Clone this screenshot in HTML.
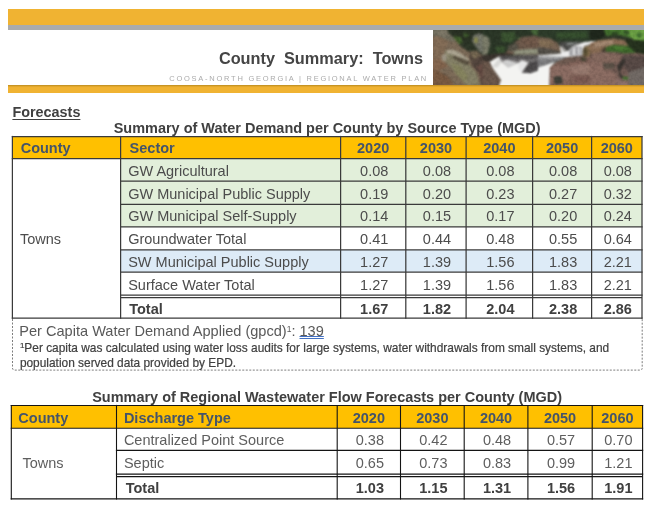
<!DOCTYPE html>
<html><head><meta charset="utf-8"><title>County Summary: Towns</title>
<style>
html,body{margin:0;padding:0;background:#fff;}
body{width:651px;height:513px;position:relative;overflow:hidden;font-family:"Liberation Sans",sans-serif;color:#404040;}
.a{position:absolute;white-space:pre;line-height:1;}
.c{position:absolute;box-sizing:border-box;display:flex;align-items:center;font-size:14.5px;white-space:pre;line-height:1;padding-top:2.2px}
.c.l{justify-content:flex-start;padding-left:7.6px}
.c.m{justify-content:center;padding-left:2px}
.c.h{font-weight:bold;color:#44546a;font-size:14.5px}
.c.b{font-weight:bold}
.c.n{color:#4c4c4c}
.c.g{color:#5e5e5e}
.c.p0{padding-left:0}
.c.pt0{padding-top:0}
.c span{display:block}
.photo{position:absolute;left:433px;top:30px;width:211px;height:55px;overflow:hidden}
</style></head><body>
<div class="a" style="left:8px;top:9px;width:636px;height:15.6px;background:#f0b332"></div>
<div class="a" style="left:8px;top:24.6px;width:636px;height:5.4px;background:#a9abad"></div>
<div class="a" style="left:8px;top:85px;width:636px;height:7.8px;background:linear-gradient(#b98a1e 0,#e0a62c 1.4px,#f0b332 2.6px)"></div>
<svg class="photo" width="211" height="55" viewBox="0 0 211 55" preserveAspectRatio="none"><defs><filter id="b" x="-20%" y="-40%" width="140%" height="180%" color-interpolation-filters="sRGB"><feGaussianBlur stdDeviation="0.8" result="g"/><feTurbulence type="fractalNoise" baseFrequency="0.3" numOctaves="2" seed="7" result="n"/><feColorMatrix in="n" type="matrix" values="0 0 0 0 0  0 0 0 0 0  0 0 0 0 0  0.32 0 0 0 -0.12" result="na"/><feColorMatrix in="g" type="matrix" values="0 0 0 0 0  0 0 0 0 0  0 0 0 0 0  -0.5 -1.2 -0.3 0 1.75" result="mk"/><feComposite in="na" in2="mk" operator="in" result="nd"/><feMerge><feMergeNode in="g"/><feMergeNode in="nd"/></feMerge></filter></defs><g filter="url(#b)"><rect x="-20" y="-20" width="252" height="95" fill="#2f3829"/><polygon points="12.7,-7.8 61.3,-7.8 61.3,12.6 43.2,13.7 31.9,13.7 20.6,6.9" fill="#2b3325"/><polygon points="20.6,6.3 27.9,6.9 29.6,12.6 25.1,14.8 21.2,11.4" fill="#46642f"/><polygon points="30.2,3.0 35.9,3.5 35.3,7.5 30.8,6.9" fill="#3f5a2e"/><polygon points="-8.8,-7.8 12.7,-7.8 14.9,2.4 21.2,8.6 27.4,15.9 35.3,21.6 43.2,20.5 52.2,27.2 61.3,36.3 61.3,62.3 -8.8,62.3" fill="#7c6b58"/><polygon points="-8.8,-7.8 12.7,-7.8 14.9,2.4 21.2,8.6 22.3,12.0 14.9,10.3 4.8,5.8 -8.8,6.9" fill="#747060"/><polygon points="2.5,1.3 11.6,0.7 14.9,4.6 9.3,5.8" fill="#837d6c"/><polygon points="-8.8,8.0 4.8,6.3 14.9,10.9 12.7,18.2 8.2,28.4 -8.8,32.9" fill="#846d57"/><polygon points="12.7,19.9 24.0,22.7 35.3,32.9 43.2,43.1 46.6,55.5 33.0,55.5 21.7,41.9 10.4,29.5" fill="#868268"/><polygon points="18.3,32.9 27.4,36.3 35.3,46.5 31.9,52.1 22.9,44.2" fill="#86845f"/><polygon points="-8.8,39.7 4.8,40.8 14.9,46.5 21.7,55.5 -8.8,57.8" fill="#7a5b43"/><polygon points="-8.8,30.6 8.2,28.9 14.9,36.3 4.8,40.8 -8.8,39.7" fill="#86674f"/><polygon points="13.3,20.5 18.3,19.3 25.1,21.6 35.9,28.9 35.9,31.2 20.6,25.0 13.8,23.6" fill="#aba491"/><polygon points="20.0,25.2 35.9,31.2 35.9,35.2 28.5,32.9 20.6,28.6" fill="#595040"/><polygon points="8.7,25.0 13.3,23.9 13.8,29.5 9.3,31.8" fill="#a39b8a"/><polygon points="35.9,22.2 43.2,20.5 52.2,27.2 61.3,36.3 61.3,52.7 48.3,55.5 46.6,44.2 39.2,35.7" fill="#54463e"/><polygon points="43.2,36.3 51.1,32.9 57.9,39.7 56.8,48.7 48.8,51.0" fill="#664c44"/><polygon points="36.4,22.7 43.2,21.0 47.7,25.6 40.9,29.5" fill="#7a6c55"/><polygon points="39.2,11.4 40.0,5.8 45.5,3.3 52.2,4.4 56.8,11.4 56.3,20.5 52.5,25.7 46.6,21.6 42.3,15.9" fill="#73756a"/><polygon points="40.9,8.0 44.3,7.1 44.9,12.6 41.5,13.1" fill="#8b8c4c"/><polygon points="46.6,5.8 52.2,5.8 55.6,12.6 54.5,19.3 50.0,18.2" fill="#7e7f71"/><polygon points="52.5,25.7 56.3,20.5 61.3,21.6 61.3,31.8 54.5,30.6" fill="#39342e"/><polygon points="49.7,-7.8 115.3,-7.8 115.3,6.3 99.5,5.8 88.2,6.9 80.2,13.7 72.3,22.7 56.5,25.2 49.7,25.6" fill="#2c3828"/><polygon points="67.8,2.4 81.4,1.8 83.1,8.0 78.0,12.6 68.9,11.4" fill="#3c5532"/><polygon points="62.2,17.1 71.2,15.9 72.3,22.2 64.4,23.3" fill="#3a5230"/><polygon points="97.2,-2.1 115.3,-2.1 115.3,5.2 105.1,5.8 99.5,4.1" fill="#48683a"/><polygon points="84.8,8.0 88.7,7.5 88.2,12.6 85.3,13.1" fill="#4e7a3c"/><polygon points="49.7,5.2 53.1,6.0 56.0,8.6 57.2,13.7 54.5,23.9 49.7,26.7" fill="#7d7e6b"/><polygon points="72.3,23.0 80.2,13.7 88.2,7.1 99.5,5.8 115.3,6.7 115.3,24.8 74.6,24.8" fill="#6d594b"/><polygon points="89.3,9.2 100.6,7.5 115.3,8.6 115.3,14.8 97.2,15.9 89.3,13.7" fill="#725a4b"/><polygon points="80.8,21.0 89.3,19.3 115.3,18.0 115.3,24.1 80.2,24.6" fill="#90927d"/><polygon points="74.6,15.9 83.6,12.6 85.9,19.3 76.9,22.2" fill="#5a564a"/><polygon points="49.7,25.2 72.3,22.7 80.2,25.0 65.6,26.8 56.5,32.0 49.7,30.9" fill="#3a342e"/><polygon points="56.5,31.8 65.6,26.5 115.3,24.8 115.3,62.3 63.3,62.3 67.8,50.1 58.8,36.9" fill="#f3f3f1"/><polygon points="66.1,26.1 115.3,25.0 115.3,36.9 97.2,43.3 88.7,42.5 95.2,32.9 84.8,33.1 75.2,37.6 70.1,32.9 67.3,31.2" fill="#767373"/><polygon points="66.7,26.1 115.3,25.0 115.3,28.6 67.8,29.3" fill="#585555"/><polygon points="88.7,42.5 95.5,32.9 115.3,27.8 115.3,36.9 97.2,43.3" fill="#4f4c4d"/><polygon points="68.9,31.2 74.6,29.5 84.8,33.1 75.2,37.6" fill="#cfcfcf"/><polygon points="84.8,33.1 89.3,30.1 95.5,32.7 89.3,41.9 85.9,39.7" fill="#e6e6e6"/><polygon points="58.8,36.9 66.7,27.2 68.9,31.8 64.4,37.4" fill="#d8d8d6"/><polygon points="49.7,30.6 56.5,31.8 58.8,37.2 67.8,50.1 63.9,62.3 49.7,62.3" fill="#6b584c"/><polygon points="104.9,-7.8 169.3,-7.8 169.3,10.9 151.2,11.7 125.2,11.7 117.3,8.3 104.9,6.9" fill="#2e3d2b"/><polygon points="122.9,2.4 153.5,1.8 154.6,8.0 124.1,8.6" fill="#37502f"/><polygon points="104.9,6.9 117.3,8.5 124.1,12.6 127.5,18.2 128.1,23.4 117.3,25.2 104.9,25.2" fill="#776352"/><polygon points="104.9,17.1 115.0,18.8 128.1,21.6 128.1,23.6 117.3,25.2 104.9,25.2" fill="#55514a"/><polygon points="106.0,10.3 116.2,10.3 121.8,14.8 112.8,17.1 106.0,15.9" fill="#857057"/><polygon points="125.2,11.7 151.2,11.7 139.9,16.2 135.4,20.7 130.3,21.8 127.5,16.2" fill="#4b4b49"/><polygon points="133.1,12.3 146.7,12.0 139.9,14.8 134.2,15.9" fill="#7f8280"/><polygon points="126.3,14.8 130.3,21.6 135.4,20.5 139.9,15.9 151.2,12.1 163.6,10.8 169.3,11.2 151.2,16.2 149.6,25.9 134.2,26.9 104.9,26.6 104.9,25.2 128.1,23.6" fill="#ececec"/><polygon points="136.3,18.8 142.2,15.9 149.2,17.1 149.2,25.7 136.5,25.9" fill="#a3a3a6"/><polygon points="139.9,18.2 142.2,17.6 141.9,25.6 139.9,25.6" fill="#e4e4e4"/><polygon points="145.0,17.6 146.7,17.6 146.5,25.6 144.8,25.6" fill="#dedede"/><polygon points="126.9,15.9 130.3,21.6 133.1,20.5 130.3,17.1" fill="#b9b6b2"/><polygon points="104.9,26.8 134.2,27.2 122.9,32.0 104.9,38.0" fill="#7c7c7e"/><polygon points="104.9,26.8 134.2,27.2 128.6,28.9 104.9,29.3" fill="#a0a0a2"/><polygon points="104.9,37.6 122.9,31.8 117.3,37.6 116.2,62.3 104.9,62.3" fill="#f4f4f2"/><polygon points="116.2,62.3 116.7,37.6 124.1,31.8 134.2,27.2 149.6,26.1 151.2,17.1 169.3,11.4 169.3,62.3" fill="#82645a"/><polygon points="135.4,36.9 151.2,33.5 169.3,36.9 169.3,44.2 141.0,44.2" fill="#997b70"/><polygon points="118.4,38.5 134.2,32.9 139.9,44.2 132.0,52.1 118.4,53.2" fill="#8c6d63"/><polygon points="124.1,32.0 134.2,27.5 149.6,26.3 154.6,27.2 139.9,31.8 128.6,35.2" fill="#6e5a50"/><polygon points="120.7,46.5 128.6,46.2 130.0,53.2 121.8,54.6" fill="#3f4038"/><polygon points="147.8,27.2 153.5,27.8 153.0,31.3 148.3,31.3" fill="#484434"/><polygon points="151.2,17.1 169.3,11.7 169.3,26.1 154.6,26.8 149.6,26.1" fill="#87704f"/><polygon points="150.1,18.4 154.6,18.2 154.8,26.1 149.6,26.1" fill="#5a4f34"/><polygon points="155.7,15.9 169.3,13.1 169.3,19.3 158.0,20.5" fill="#94785c"/><polygon points="139.9,46.5 169.3,46.5 169.3,52.1 143.3,53.2" fill="#7a5a52"/><polygon points="156.9,-7.8 170.4,-7.8 172.7,5.8 164.8,10.3 156.9,10.9" fill="#20281d"/><polygon points="169.3,-7.8 221.3,-7.8 221.3,11.7 203.2,10.3 195.3,7.1 186.2,4.9 172.7,5.6" fill="#4d7f34"/><polygon points="194.2,-3.3 221.3,-3.3 221.3,9.4 201.5,10.3 196.4,5.8" fill="#6ea446"/><polygon points="172.7,1.3 186.2,0.7 187.4,4.6 173.8,5.6" fill="#3f6a2c"/><polygon points="178.3,2.4 184.0,1.8 185.1,4.6 179.5,5.2" fill="#2f4a24"/><polygon points="190.8,1.3 195.3,0.7 197.0,4.1 191.9,4.6" fill="#35552a"/><polygon points="203.2,3.5 207.7,2.4 208.8,6.9 204.3,7.5" fill="#3d6a2e"/><polygon points="191.9,9.4 203.2,10.3 221.3,11.7 221.3,26.1 203.2,22.7 195.3,15.9" fill="#27331f"/><polygon points="156.9,10.9 163.6,10.9 162.5,13.2 156.9,13.5" fill="#f0f0f0"/><polygon points="156.9,13.5 164.8,10.3 180.6,8.5 191.9,10.3 195.3,15.9 186.2,15.5 173.8,17.1 169.3,21.6 156.9,24.1" fill="#8a6d55"/><polygon points="162.5,12.6 179.5,9.7 181.7,13.7 169.3,15.9 160.3,18.2" fill="#a48972"/><polygon points="169.3,18.2 173.8,17.1 173.3,22.2 168.7,22.2" fill="#4f4535"/><polygon points="172.7,17.3 180.6,14.8 195.3,15.9 203.2,22.7 191.9,23.4 180.6,21.8 172.7,22.3" fill="#3f682c"/><polygon points="178.3,15.9 190.8,15.9 195.3,19.9 182.9,19.9" fill="#4a7a33"/><polygon points="156.9,24.1 169.3,21.6 180.6,22.1 191.9,23.4 203.2,22.7 221.3,26.7 221.3,62.3 156.9,62.3" fill="#745d55"/><polygon points="156.9,30.6 171.6,32.9 184.0,46.5 180.6,62.3 156.9,62.3" fill="#8c6d63"/><polygon points="160.3,23.3 180.6,22.7 189.6,25.6 186.2,31.8 171.6,32.9 158.0,29.5" fill="#866a5f"/><polygon points="189.6,25.2 210.0,26.1 221.3,35.2 195.3,42.2 187.6,32.9" fill="#594b47"/><polygon points="184.0,36.3 191.0,27.2 192.1,32.0 186.5,41.9 191.9,48.9 187.2,47.8" fill="#383430"/><polygon points="195.3,42.2 221.3,33.5 221.3,62.3 195.3,62.3" fill="#736b66"/><polygon points="169.3,32.9 180.6,32.9 181.7,38.5 171.6,39.7" fill="#5c5248"/><polygon points="189.6,46.5 195.5,47.0 194.4,50.1 189.9,49.4" fill="#4a7a35"/><polygon points="184.0,48.7 195.3,51.0 195.3,62.3 180.6,62.3" fill="#8c706a"/></g></svg>
<div class="a" id="title" style="left:218.9px;top:50.1px;font-size:16.3px;font-weight:bold;color:#454545">County  Summary:  Towns</div>
<div class="a" id="sub" style="left:169.3px;top:74.5px;font-size:7.5px;letter-spacing:1.74px;color:#ababab">COOSA-NORTH GEORGIA | REGIONAL WATER PLAN</div>
<div class="a" id="fc" style="left:12.4px;top:104.6px;font-size:14.4px;font-weight:bold;text-decoration:underline;text-decoration-thickness:1.4px;text-underline-offset:2.1px">Forecasts</div>
<div class="a" id="t1" style="left:113.7px;top:120.7px;font-size:14.47px;font-weight:bold">Summary of Water Demand per County by Source Type (MGD)</div>
<div class="c h l p0" style="left:12.4px;top:136.5px;width:108.2px;height:22.0px;background:#ffc000;"><span style="padding-left:8.3px">County</span></div>
<div class="c h l p0" style="left:120.6px;top:136.5px;width:220.0px;height:22.0px;background:#ffc000;"><span style="padding-left:9.0px">Sector</span></div>
<div class="c h m p0" style="left:340.6px;top:136.5px;width:65.2px;height:22.0px;background:#ffc000;"><span>2020</span></div>
<div class="c h m p0" style="left:405.8px;top:136.5px;width:60.3px;height:22.0px;background:#ffc000;"><span>2030</span></div>
<div class="c h m p0" style="left:466.1px;top:136.5px;width:66.5px;height:22.0px;background:#ffc000;"><span>2040</span></div>
<div class="c h m p0" style="left:532.6px;top:136.5px;width:59.0px;height:22.0px;background:#ffc000;"><span>2050</span></div>
<div class="c h m p0" style="left:591.6px;top:136.5px;width:50.4px;height:22.0px;background:#ffc000;"><span>2060</span></div>
<div class="c l n p0 pt0" style="left:12.4px;top:158.5px;width:108.2px;height:159.7px;"><span style="padding-left:7.5px;padding-top:2.2px">Towns</span></div>
<div class="c l p0 n" style="left:120.6px;top:158.5px;width:220.0px;height:22.6px;background:#e2efda;"><span style="padding-left:7.6px">GW Agricultural</span></div>
<div class="c m n" style="left:340.6px;top:158.5px;width:65.2px;height:22.6px;background:#e2efda;"><span>0.08</span></div>
<div class="c m n" style="left:405.8px;top:158.5px;width:60.3px;height:22.6px;background:#e2efda;"><span>0.08</span></div>
<div class="c m n" style="left:466.1px;top:158.5px;width:66.5px;height:22.6px;background:#e2efda;"><span>0.08</span></div>
<div class="c m n" style="left:532.6px;top:158.5px;width:59.0px;height:22.6px;background:#e2efda;"><span>0.08</span></div>
<div class="c m n" style="left:591.6px;top:158.5px;width:50.4px;height:22.6px;background:#e2efda;"><span>0.08</span></div>
<div class="c l p0 n" style="left:120.6px;top:181.1px;width:220.0px;height:23.2px;background:#e2efda;"><span style="padding-left:7.6px">GW Municipal Public Supply</span></div>
<div class="c m n" style="left:340.6px;top:181.1px;width:65.2px;height:23.2px;background:#e2efda;"><span>0.19</span></div>
<div class="c m n" style="left:405.8px;top:181.1px;width:60.3px;height:23.2px;background:#e2efda;"><span>0.20</span></div>
<div class="c m n" style="left:466.1px;top:181.1px;width:66.5px;height:23.2px;background:#e2efda;"><span>0.23</span></div>
<div class="c m n" style="left:532.6px;top:181.1px;width:59.0px;height:23.2px;background:#e2efda;"><span>0.27</span></div>
<div class="c m n" style="left:591.6px;top:181.1px;width:50.4px;height:23.2px;background:#e2efda;"><span>0.32</span></div>
<div class="c l p0 n" style="left:120.6px;top:204.3px;width:220.0px;height:22.6px;background:#e2efda;"><span style="padding-left:7.6px">GW Municipal Self-Supply</span></div>
<div class="c m n" style="left:340.6px;top:204.3px;width:65.2px;height:22.6px;background:#e2efda;"><span>0.14</span></div>
<div class="c m n" style="left:405.8px;top:204.3px;width:60.3px;height:22.6px;background:#e2efda;"><span>0.15</span></div>
<div class="c m n" style="left:466.1px;top:204.3px;width:66.5px;height:22.6px;background:#e2efda;"><span>0.17</span></div>
<div class="c m n" style="left:532.6px;top:204.3px;width:59.0px;height:22.6px;background:#e2efda;"><span>0.20</span></div>
<div class="c m n" style="left:591.6px;top:204.3px;width:50.4px;height:22.6px;background:#e2efda;"><span>0.24</span></div>
<div class="c l p0 n" style="left:120.6px;top:226.9px;width:220.0px;height:22.9px;"><span style="padding-left:7.6px">Groundwater Total</span></div>
<div class="c m n" style="left:340.6px;top:226.9px;width:65.2px;height:22.9px;"><span>0.41</span></div>
<div class="c m n" style="left:405.8px;top:226.9px;width:60.3px;height:22.9px;"><span>0.44</span></div>
<div class="c m n" style="left:466.1px;top:226.9px;width:66.5px;height:22.9px;"><span>0.48</span></div>
<div class="c m n" style="left:532.6px;top:226.9px;width:59.0px;height:22.9px;"><span>0.55</span></div>
<div class="c m n" style="left:591.6px;top:226.9px;width:50.4px;height:22.9px;"><span>0.64</span></div>
<div class="c l p0 n" style="left:120.6px;top:249.8px;width:220.0px;height:22.4px;background:#ddebf7;"><span style="padding-left:7.6px">SW Municipal Public Supply</span></div>
<div class="c m n" style="left:340.6px;top:249.8px;width:65.2px;height:22.4px;background:#ddebf7;"><span>1.27</span></div>
<div class="c m n" style="left:405.8px;top:249.8px;width:60.3px;height:22.4px;background:#ddebf7;"><span>1.39</span></div>
<div class="c m n" style="left:466.1px;top:249.8px;width:66.5px;height:22.4px;background:#ddebf7;"><span>1.56</span></div>
<div class="c m n" style="left:532.6px;top:249.8px;width:59.0px;height:22.4px;background:#ddebf7;"><span>1.83</span></div>
<div class="c m n" style="left:591.6px;top:249.8px;width:50.4px;height:22.4px;background:#ddebf7;"><span>2.21</span></div>
<div class="c l p0 n" style="left:120.6px;top:272.2px;width:220.0px;height:23.0px;"><span style="padding-left:7.6px">Surface Water Total</span></div>
<div class="c m n" style="left:340.6px;top:272.2px;width:65.2px;height:23.0px;"><span>1.27</span></div>
<div class="c m n" style="left:405.8px;top:272.2px;width:60.3px;height:23.0px;"><span>1.39</span></div>
<div class="c m n" style="left:466.1px;top:272.2px;width:66.5px;height:23.0px;"><span>1.56</span></div>
<div class="c m n" style="left:532.6px;top:272.2px;width:59.0px;height:23.0px;"><span>1.83</span></div>
<div class="c m n" style="left:591.6px;top:272.2px;width:50.4px;height:23.0px;"><span>2.21</span></div>
<div class="c l p0 b pt0" style="left:120.6px;top:297.2px;width:220.0px;height:21.0px;"><span style="padding-left:8.6px;padding-top:2.2px">Total</span></div>
<div class="c m b pt0" style="left:340.6px;top:297.2px;width:65.2px;height:21.0px;"><span style="padding-top:2.2px">1.67</span></div>
<div class="c m b pt0" style="left:405.8px;top:297.2px;width:60.3px;height:21.0px;"><span style="padding-top:2.2px">1.82</span></div>
<div class="c m b pt0" style="left:466.1px;top:297.2px;width:66.5px;height:21.0px;"><span style="padding-top:2.2px">2.04</span></div>
<div class="c m b pt0" style="left:532.6px;top:297.2px;width:59.0px;height:21.0px;"><span style="padding-top:2.2px">2.38</span></div>
<div class="c m b pt0" style="left:591.6px;top:297.2px;width:50.4px;height:21.0px;"><span style="padding-top:2.2px">2.86</span></div>
<div class="c h l p0" style="left:11.3px;top:405.5px;width:105.2px;height:22.8px;background:#ffc000;"><span style="padding-left:7.0px">County</span></div>
<div class="c h l p0" style="left:116.5px;top:405.5px;width:220.7px;height:22.8px;background:#ffc000;"><span style="padding-left:7.4px">Discharge Type</span></div>
<div class="c h m p0" style="left:337.2px;top:405.5px;width:63.3px;height:22.8px;background:#ffc000;"><span>2020</span></div>
<div class="c h m p0" style="left:400.5px;top:405.5px;width:63.7px;height:22.8px;background:#ffc000;"><span>2030</span></div>
<div class="c h m p0" style="left:464.2px;top:405.5px;width:63.7px;height:22.8px;background:#ffc000;"><span>2040</span></div>
<div class="c h m p0" style="left:527.9px;top:405.5px;width:64.3px;height:22.8px;background:#ffc000;"><span>2050</span></div>
<div class="c h m p0" style="left:592.2px;top:405.5px;width:50.4px;height:22.8px;background:#ffc000;"><span>2060</span></div>
<div class="c l n p0 pt0 g" style="left:11.3px;top:428.3px;width:105.2px;height:70.6px;"><span style="padding-left:11.2px;padding-top:0.0px">Towns</span></div>
<div class="c l p0 n g" style="left:116.5px;top:428.3px;width:220.7px;height:22.1px;"><span style="padding-left:7.4px">Centralized Point Source</span></div>
<div class="c m n g" style="left:337.2px;top:428.3px;width:63.3px;height:22.1px;"><span>0.38</span></div>
<div class="c m n g" style="left:400.5px;top:428.3px;width:63.7px;height:22.1px;"><span>0.42</span></div>
<div class="c m n g" style="left:464.2px;top:428.3px;width:63.7px;height:22.1px;"><span>0.48</span></div>
<div class="c m n g" style="left:527.9px;top:428.3px;width:64.3px;height:22.1px;"><span>0.57</span></div>
<div class="c m n g" style="left:592.2px;top:428.3px;width:50.4px;height:22.1px;"><span>0.70</span></div>
<div class="c l p0 n g" style="left:116.5px;top:450.4px;width:220.7px;height:23.7px;"><span style="padding-left:7.4px">Septic</span></div>
<div class="c m n g" style="left:337.2px;top:450.4px;width:63.3px;height:23.7px;"><span>0.65</span></div>
<div class="c m n g" style="left:400.5px;top:450.4px;width:63.7px;height:23.7px;"><span>0.73</span></div>
<div class="c m n g" style="left:464.2px;top:450.4px;width:63.7px;height:23.7px;"><span>0.83</span></div>
<div class="c m n g" style="left:527.9px;top:450.4px;width:64.3px;height:23.7px;"><span>0.99</span></div>
<div class="c m n g" style="left:592.2px;top:450.4px;width:50.4px;height:23.7px;"><span>1.21</span></div>
<div class="c l p0 b pt0" style="left:116.5px;top:476.1px;width:220.7px;height:22.8px;"><span style="padding-left:9.2px;padding-top:2.0px">Total</span></div>
<div class="c m b pt0" style="left:337.2px;top:476.1px;width:63.3px;height:22.8px;"><span style="padding-top:2.0px">1.03</span></div>
<div class="c m b pt0" style="left:400.5px;top:476.1px;width:63.7px;height:22.8px;"><span style="padding-top:2.0px">1.15</span></div>
<div class="c m b pt0" style="left:464.2px;top:476.1px;width:63.7px;height:22.8px;"><span style="padding-top:2.0px">1.31</span></div>
<div class="c m b pt0" style="left:527.9px;top:476.1px;width:64.3px;height:22.8px;"><span style="padding-top:2.0px">1.56</span></div>
<div class="c m b pt0" style="left:592.2px;top:476.1px;width:50.4px;height:22.8px;"><span style="padding-top:2.0px">1.91</span></div>
<svg class="a" style="left:0;top:0" width="651" height="513"><line x1="11.80" y1="136.50" x2="642.60" y2="136.50" stroke="#3a3a3a" stroke-width="1.25"/><line x1="11.80" y1="158.50" x2="642.60" y2="158.50" stroke="#3a3a3a" stroke-width="1.25"/><line x1="120.00" y1="181.10" x2="642.60" y2="181.10" stroke="#3a3a3a" stroke-width="1.25"/><line x1="120.00" y1="204.30" x2="642.60" y2="204.30" stroke="#3a3a3a" stroke-width="1.25"/><line x1="120.00" y1="226.90" x2="642.60" y2="226.90" stroke="#3a3a3a" stroke-width="1.25"/><line x1="120.00" y1="249.80" x2="642.60" y2="249.80" stroke="#3a3a3a" stroke-width="1.25"/><line x1="120.00" y1="272.20" x2="642.60" y2="272.20" stroke="#3a3a3a" stroke-width="1.25"/><line x1="120.00" y1="295.20" x2="642.60" y2="295.20" stroke="#3a3a3a" stroke-width="1.25"/><line x1="11.80" y1="318.20" x2="642.60" y2="318.20" stroke="#3a3a3a" stroke-width="1.25"/><line x1="120.60" y1="297.70" x2="642.00" y2="297.70" stroke="#3a3a3a" stroke-width="1.25"/><line x1="12.40" y1="135.90" x2="12.40" y2="318.80" stroke="#3a3a3a" stroke-width="1.25"/><line x1="120.60" y1="135.90" x2="120.60" y2="318.80" stroke="#3a3a3a" stroke-width="1.25"/><line x1="340.60" y1="135.90" x2="340.60" y2="318.80" stroke="#3a3a3a" stroke-width="1.25"/><line x1="405.80" y1="135.90" x2="405.80" y2="318.80" stroke="#3a3a3a" stroke-width="1.25"/><line x1="466.10" y1="135.90" x2="466.10" y2="318.80" stroke="#3a3a3a" stroke-width="1.25"/><line x1="532.60" y1="135.90" x2="532.60" y2="318.80" stroke="#3a3a3a" stroke-width="1.25"/><line x1="591.60" y1="135.90" x2="591.60" y2="318.80" stroke="#3a3a3a" stroke-width="1.25"/><line x1="642.00" y1="135.90" x2="642.00" y2="318.80" stroke="#3a3a3a" stroke-width="1.25"/><line x1="10.70" y1="405.50" x2="643.20" y2="405.50" stroke="#141414" stroke-width="1.10"/><line x1="10.70" y1="428.30" x2="643.20" y2="428.30" stroke="#141414" stroke-width="1.10"/><line x1="115.90" y1="450.40" x2="643.20" y2="450.40" stroke="#141414" stroke-width="1.10"/><line x1="115.90" y1="474.10" x2="643.20" y2="474.10" stroke="#141414" stroke-width="1.10"/><line x1="10.70" y1="498.90" x2="643.20" y2="498.90" stroke="#141414" stroke-width="1.10"/><line x1="116.50" y1="476.60" x2="642.60" y2="476.60" stroke="#141414" stroke-width="1.10"/><line x1="11.30" y1="404.90" x2="11.30" y2="499.50" stroke="#141414" stroke-width="1.10"/><line x1="116.50" y1="404.90" x2="116.50" y2="499.50" stroke="#141414" stroke-width="1.10"/><line x1="337.20" y1="404.90" x2="337.20" y2="499.50" stroke="#141414" stroke-width="1.10"/><line x1="400.50" y1="404.90" x2="400.50" y2="499.50" stroke="#141414" stroke-width="1.10"/><line x1="464.20" y1="404.90" x2="464.20" y2="499.50" stroke="#141414" stroke-width="1.10"/><line x1="527.90" y1="404.90" x2="527.90" y2="499.50" stroke="#141414" stroke-width="1.10"/><line x1="592.20" y1="404.90" x2="592.20" y2="499.50" stroke="#141414" stroke-width="1.10"/><line x1="642.60" y1="404.90" x2="642.60" y2="499.50" stroke="#141414" stroke-width="1.10"/><path d="M12.5 319 V368 Q12.5 370.1 14.6 370.1 H640.1 Q642.2 370.1 642.2 368 V319" fill="none" stroke="#6e6e6e" stroke-width="0.9" stroke-dasharray="2 1.5"/></svg>
<div class="a" id="pc" style="left:19.3px;top:324.1px;font-size:14.57px;color:#595959">Per Capita Water Demand Applied (gpcd)<span style="font-size:8.5px;position:relative;top:-4.5px">1</span>: <span style="text-decoration:underline double #4472c4;text-decoration-thickness:1px;text-underline-offset:0.4px">139</span></div>
<div class="a" id="fn" style="left:19.9px;top:342.3px;font-size:11.9px;line-height:13.5px;color:#404040;-webkit-text-stroke:0.2px #404040"><span style="font-size:8px;position:relative;top:-4px">1</span>Per capita was calculated using water loss audits for large systems, water withdrawals from small systems, and
population served data provided by EPD.</div>
<div class="a" id="t2" style="left:92.2px;top:390.3px;font-size:14.47px;font-weight:bold">Summary of Regional Wastewater Flow Forecasts per County (MGD)</div>
</body></html>
